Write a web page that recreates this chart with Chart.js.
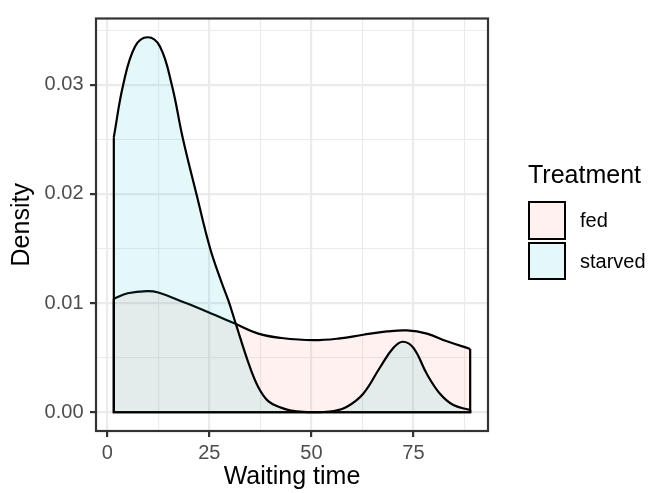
<!DOCTYPE html>
<html>
<head>
<meta charset="utf-8">
<script src="https://cdn.jsdelivr.net/npm/chart.js@4.4.1/dist/chart.umd.min.js"></script>
<style>
  body { margin: 0; background: #fff; }
  #wrap { position: relative; width: 648px; height: 493px; font-family: "Liberation Sans", Arial, sans-serif; }
  #legend div { position: absolute; color: #000; white-space: nowrap; }
  #legend .title { font-size: 25px; line-height: 24px; }
  #legend .key { box-sizing: border-box; width: 38.5px; height: 38.7px; border: 2.2px solid #000; }
  #legend .label { font-size: 20px; line-height: 38.7px; }
</style>
</head>
<body>
<div id="wrap">
  <canvas id="densityChart" width="648" height="493"></canvas>
  <div id="legend"></div>
</div>
<script>
// density estimates (x = waiting time, y = density)
const fedX = [1.6, 5, 9.7, 12.5, 18.6, 22, 26.4, 31.4, 37, 42.7, 50.5, 57, 62.7, 68.5, 73.4, 78.3, 83.2, 88.9];
const fedY = [0.0104, 0.0109, 0.0111, 0.01097, 0.0101, 0.0096, 0.0089, 0.0081, 0.0072, 0.0068, 0.0066, 0.00677, 0.0071, 0.0074, 0.0075, 0.0072, 0.0065, 0.0058];

const starvedX = [1.6, 3.9, 6.8, 9.9, 12.9, 15.8, 18.5, 21.9, 25.2, 28, 29.7, 31.4, 34.6, 37, 39.5, 42.7, 45, 48, 52, 55.5, 58.7, 62.7, 66.8, 70.1, 72.4, 75, 78.3, 81.5, 84.8, 88.9];
const starvedY = [0.0252, 0.03, 0.0335, 0.03435, 0.0335, 0.03, 0.0251, 0.0199, 0.015, 0.0119, 0.0102, 0.0082, 0.0045, 0.0023, 0.001, 0.0004, 0.00015, 0.00003, 0.00002, 0.0001, 0.0005, 0.0017, 0.0041, 0.0059, 0.00646, 0.0059, 0.0035, 0.0017, 0.00066, 0.0002];

const groups = ['fed', 'starved'];
const fills = ['rgba(248, 118, 109, 0.1)', 'rgba(0, 191, 196, 0.1)'];

const xMajor = [0, 25, 50, 75];
const xMinor = [12.5, 37.5, 62.5, 87.5];
const yMajor = [0, 0.01, 0.02, 0.03];
const yMinor = [0.005, 0.015, 0.025, 0.035];

Chart.defaults.font.family = '"Liberation Sans", Arial, sans-serif';

// ggplot style 5% expansion around the data range
const xLo = fedX[0], xHi = fedX[fedX.length - 1];
const yTop = Math.max(...fedY, ...starvedY);
const xPad = (xHi - xLo) * 0.05, yPad = yTop * 0.05;

function points(xs, ys) {
    return xs.map((x, i) => ({ x: x, y: ys[i] }));
}

// vertical ends and baseline of the density polygon
function outline(xs, ys) {
    const n = xs.length - 1;
    return [{ x: xs[0], y: ys[0] }, { x: xs[0], y: 0 }, { x: xs[n], y: 0 }, { x: xs[n], y: ys[n] }];
}

function curveSet(label, xs, ys, fill, order) {
    return {
        label: label,
        data: points(xs, ys),
        fill: 'origin',
        backgroundColor: fill,
        borderColor: '#000',
        borderWidth: 2.2,
        pointRadius: 0,
        tension: 0.4,
        order: order
    };
}

function edgeSet(label, xs, ys, order) {
    return {
        label: label,
        data: outline(xs, ys),
        fill: false,
        borderColor: '#000',
        borderWidth: 2.2,
        borderJoinStyle: 'miter',
        pointRadius: 0,
        tension: 0,
        order: order
    };
}

const panelBorder = {
    id: 'panelBorder',
    afterDraw(chart) {
        const { ctx, chartArea: a } = chart;
        ctx.save();
        ctx.strokeStyle = '#333333';
        ctx.lineWidth = 2.2;
        ctx.strokeRect(a.left, a.top, a.right - a.left, a.bottom - a.top);
        ctx.restore();
    }
};

function gridOpts(major) {
    return {
        color: '#EBEBEB',
        lineWidth: c => major.includes(c.tick.value) ? 2.2 : 1.1,
        tickColor: c => major.includes(c.tick.value) ? '#333333' : 'rgba(0,0,0,0)',
        tickWidth: 2.2,
        tickLength: 6
    };
}

new Chart(document.getElementById('densityChart'), {
    type: 'line',
    data: {
        datasets: [
            curveSet('fed', fedX, fedY, fills[0], 4),
            edgeSet('fed edge', fedX, fedY, 3),
            curveSet('starved', starvedX, starvedY, fills[1], 2),
            edgeSet('starved edge', starvedX, starvedY, 1)
        ]
    },
    options: {
        responsive: false,
        animation: false,
        layout: { padding: { left: 0, top: 13, right: 160, bottom: 0 } },
        plugins: { legend: { display: false }, tooltip: { enabled: false } },
        scales: {
            x: {
                type: 'linear',
                min: xLo - xPad,
                max: xHi + xPad,
                afterBuildTicks: s => { s.ticks = xMajor.concat(xMinor).sort((a, b) => a - b).map(v => ({ value: v })); },
                afterFit: s => { s.height = 62; },
                grid: gridOpts(xMajor),
                border: { display: false },
                ticks: {
                    autoSkip: false, maxRotation: 0, padding: 4,
                    color: '#4D4D4D', font: { size: 20 },
                    callback: v => xMajor.includes(v) ? String(v) : ''
                },
                title: { display: true, text: 'Waiting time', color: '#000', font: { size: 25 }, padding: { top: 0, bottom: 1 } }
            },
            y: {
                type: 'linear',
                min: -yPad,
                max: yTop + yPad,
                afterBuildTicks: s => { s.ticks = yMajor.concat(yMinor).sort((a, b) => a - b).map(v => ({ value: v })); },
                afterFit: s => { s.width = 96; },
                grid: gridOpts(yMajor),
                border: { display: false },
                ticks: {
                    autoSkip: false, padding: 6.5,
                    color: '#4D4D4D', font: { size: 20 },
                    callback: v => yMajor.includes(v) ? v.toFixed(2) : ''
                },
                title: { display: true, text: 'Density', color: '#000', font: { size: 25 }, padding: { top: 7, bottom: 0 } }
            }
        }
    },
    plugins: [panelBorder]
});

// legend, built from the group names and fills
const legend = document.getElementById('legend');
let html = '<div class="title" style="left:528px;top:161.5px">Treatment</div>';
groups.forEach((g, i) => {
    const top = 201 + i * 40.7;
    html += '<div class="key" style="left:527.5px;top:' + top + 'px;background:' + fills[i] + '"></div>';
    html += '<div class="label" style="left:580px;top:' + top + 'px">' + g + '</div>';
});
legend.innerHTML = html;
</script>
</body>
</html>
